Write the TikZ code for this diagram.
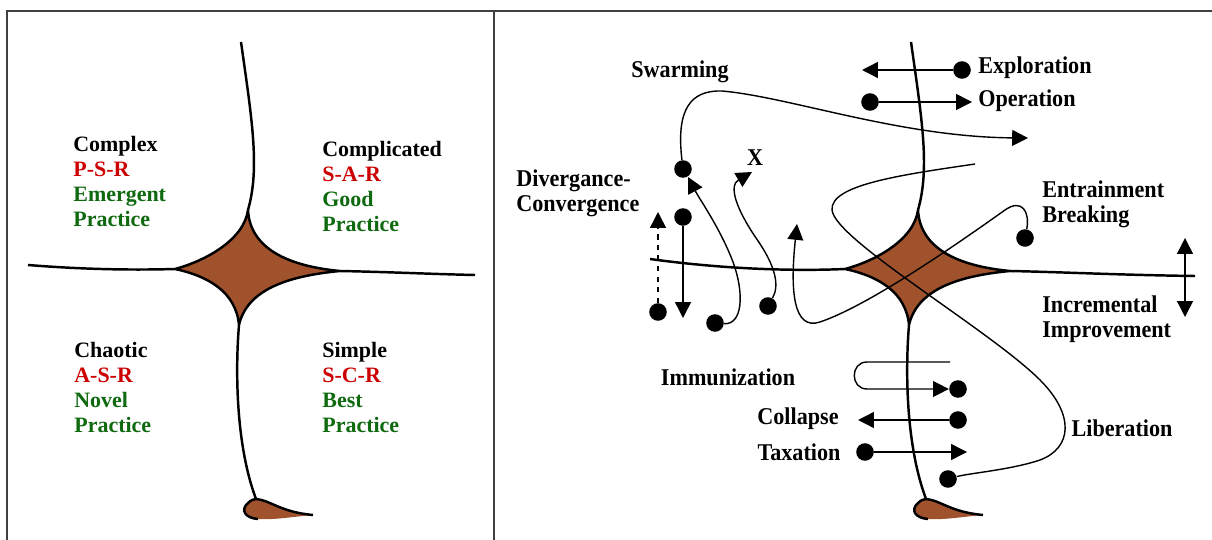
\documentclass[tikz,border=0pt]{standalone}
\usepackage{fontspec}
\setmainfont{Liberation Serif}
\newfontfamily\narrowfont[FakeStretch=0.92]{Liberation Serif}
\usetikzlibrary{arrows.meta}
\definecolor{srcred}{RGB}{204,0,0}
\definecolor{srcgreen}{RGB}{15,105,15}
\definecolor{starbrown}{RGB}{160,82,45}

\begin{document}
\begin{tikzpicture}[x=0.02cm, y=-0.02cm,
    >={Triangle[length=9pt,width=9pt]},
    crossline/.style={line width=1.4pt, line join=round},
    thinline/.style={line width=0.8pt},
    panel/.style={line width=1pt, black!75},
    dot/.style={circle, fill, inner sep=0pt, minimum size=10pt},
    quad/.style={align=left, anchor=west, inner sep=0pt,
        font=\fontsize{12.5}{14.23}\selectfont\bfseries},
    lbl/.style={align=left, inner sep=0pt,
        font=\narrowfont\fontsize{13.7}{14.23}\selectfont\bfseries}]
    \useasboundingbox (0,0) rectangle (1212,540);

    \draw[panel] (7,540) -- (7,11) -- (1212,11);
    \draw[panel] (494,11) -- (494,540);

    % the two crosses
    \foreach \dx/\p in {0/l,670/r}{
    \begin{scope}[shift={(\dx,0)}]
        \coordinate (T\p) at (248,210);
        \coordinate (R\p) at (340,271);
        \coordinate (B\p) at (239,325);
        \coordinate (L\p) at (175,269);
        \coordinate (F\p) at (256,499);
        \filldraw[crossline, fill=starbrown] (T\p) .. controls (250,248) and (287,266) .. (R\p)
            .. controls (287,276) and (247,290) .. (B\p)
            .. controls (236,292) and (208,276) .. (L\p)
            .. controls (205,261) and (244,240) .. (T\p) -- cycle;
        \draw[crossline] (241,42) .. controls (252,120) and (260,168) .. (T\p);
        \draw[crossline] (B\p) .. controls (236,360) and (234,440) .. (F\p);
        \fill[starbrown] (F\p) .. controls (270,500) and (280,512) .. (313,515)
            .. controls (290,517) and (275,520) .. (258,519)
            .. controls (245,518) and (240,510) .. (248,503)
            .. controls (251,500) and (254,499) .. (F\p);
        \draw[crossline] (313,515) .. controls (280,512) and (270,500) .. (F\p)
            .. controls (254,499) and (251,500) .. (248,503)
            .. controls (240,510) and (245,518) .. (258,519);
    \end{scope}
    }
    \draw[crossline] (28,265) .. controls (90,270) and (140,270) .. (Ll);
    \draw[crossline] (Rl) .. controls (390,272) and (430,274) .. (475,275);
    \draw[crossline] (650,259) .. controls (730,270) and (800,271) .. (Lr);
    \draw[crossline] (Rr) .. controls (1060,272) and (1120,275) .. (1195,276);

    % left panel
    \node[quad] (complex) at (73,181) {Complex\\\textcolor{srcred}{P-S-R}\\\textcolor{srcgreen}{Emergent}\\\textcolor{srcgreen}{Practice}};
    \node[quad] (complicated) at (322,186) {Complicated\\\textcolor{srcred}{S-A-R}\\\textcolor{srcgreen}{Good}\\\textcolor{srcgreen}{Practice}};
    \node[quad] (chaotic) at (74,387) {Chaotic\\\textcolor{srcred}{A-S-R}\\\textcolor{srcgreen}{Novel}\\\textcolor{srcgreen}{Practice}};
    \node[quad] (simple) at (322,387) {Simple\\\textcolor{srcred}{S-C-R}\\\textcolor{srcgreen}{Best}\\\textcolor{srcgreen}{Practice}};

    % right panel labels
    \node[lbl] (swarming) at (680,72) {Swarming};
    \node[lbl, anchor=west] (exploration) at (978,68) {Exploration};
    \node[lbl, anchor=west] (operation) at (978,101) {Operation};
    \node[lbl] (xlabel) at (755,158) {X};
    \node[lbl, anchor=west] (divergence) at (516,193) {Divergance-\\Convergence};
    \node[lbl, anchor=west] (entrainment) at (1042,204) {Entrainment\\Breaking};
    \node[lbl, anchor=west] (incremental) at (1042,319) {Incremental\\Improvement};
    \node[lbl] (immunization) at (728,377) {Immunization};
    \node[lbl] (collapse) at (798,419) {Collapse};
    \node[lbl] (taxation) at (799,452) {Taxation};
    \node[lbl] (liberation) at (1122,428) {Liberation};

    % dots and free ends
    \node[dot] (expl) at (962,70) {};
    \coordinate (explTip) at (862,70);
    \node[dot] (oper) at (870,102) {};
    \coordinate (operTip) at (972,102);
    \node[dot] (swarm) at (683,169) {};
    \coordinate (swarmTip) at (1028,138);
    \node[dot] (div1) at (658,312) {};
    \coordinate (div1Tip) at (658,212);
    \node[dot] (div2) at (683,217) {};
    \coordinate (div2Tip) at (683,318);
    \node[dot] (div3) at (715,323) {};
    \coordinate (div3Tip) at (688,177);
    \node[dot] (xdot) at (768,306) {};
    \coordinate (xTip) at (752,172);
    \node[dot] (entr) at (1025,238) {};
    \coordinate (entrTip) at (797,224);
    \coordinate (libEnd) at (975,164);
    \node[dot] (lib) at (948,479) {};
    \coordinate (incTop) at (1185,238);
    \coordinate (incBot) at (1185,317);
    \coordinate (immEnd) at (950,362);
    \node[dot] (imm) at (958,389) {};
    \node[dot] (coll) at (958,420) {};
    \coordinate (collTip) at (858,420);
    \node[dot] (tax) at (865,452) {};
    \coordinate (taxTip) at (967,452);

    % movements
    \draw[thinline,->] (expl) -- (explTip);
    \draw[thinline,->] (oper) -- (operTip);
    \draw[thinline,->] (swarm) .. controls (676,110) and (690,90) .. (722,91)
        .. controls (790,97) and (900,137) .. (swarmTip);
    \draw[thinline,dashed,->] (div1) -- (div1Tip);
    \draw[thinline,->] (div2) -- (div2Tip);
    \draw[thinline,->] (div3) .. controls (742,325) and (745,295) .. (733,262)
        .. controls (720,228) and (700,200) .. (div3Tip);
    \draw[thinline,->] (xdot) .. controls (780,285) and (775,265) .. (756,238)
        .. controls (737,210) and (728,186) .. (xTip);
    \draw[thinline,->] (entr) .. controls (1030,212) and (1022,198) .. (1005,210)
        .. controls (960,242) and (870,305) .. (820,322)
        .. controls (793,331) and (790,290) .. (entrTip);
    \draw[thinline] (libEnd) .. controls (900,175) and (830,185) .. (832,210)
        .. controls (835,240) and (990,330) .. (1040,380)
        .. controls (1075,415) and (1072,448) .. (1040,460)
        .. controls (1010,470) and (970,473) .. (lib);
    \draw[thinline,<->] (incTop) -- (incBot);
    \draw[thinline,->] (immEnd) -- (867,362) .. controls (850,362) and (850,389) .. (867,389) -- (imm);
    \draw[thinline,->] (coll) -- (collTip);
    \draw[thinline,->] (tax) -- (taxTip);
\end{tikzpicture}
\end{document}
